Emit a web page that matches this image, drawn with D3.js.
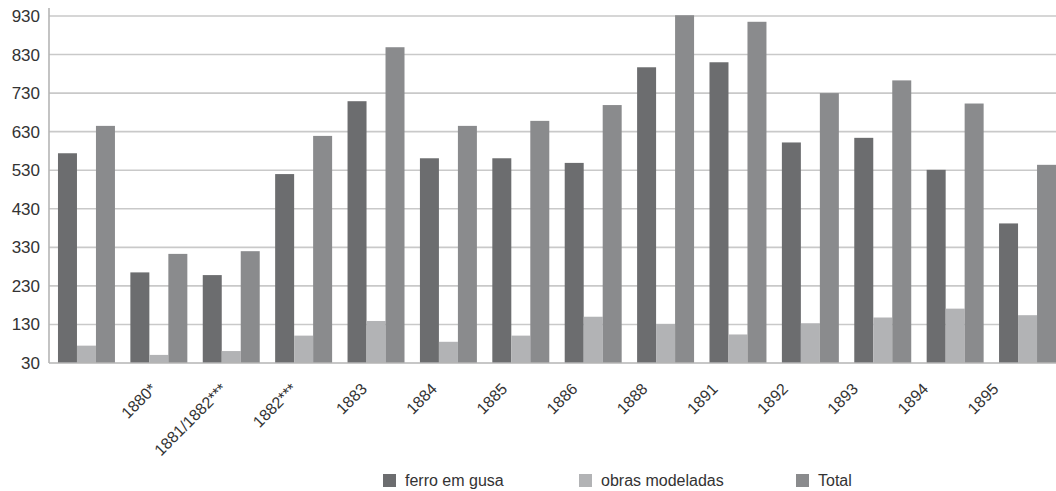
<!DOCTYPE html>
<html>
<head>
    <meta charset="utf-8">
    <script src="https://d3js.org/d3.v7.min.js"></script>
    <style>
        body { margin: 0; background: #fff; }
        text { font-family: "Liberation Sans", Arial, sans-serif; }
    </style>
</head>
<body></body>
<script>

    // data (first group carries no label in the original)
    var categories = ["", "1880*", "1881/1882***", "1882***", "1883", "1884", "1885",
        "1886", "1888", "1891", "1892", "1893", "1894", "1895"];
    var seriesNames = ["ferro em gusa", "obras modeladas", "Total"];
    var ferro = [574, 265, 258, 520, 709, 561, 561, 549, 797, 810, 602, 614, 531, 392];
    var obras = [75, 51, 61, 101, 139, 85, 101, 150, 131, 104, 133, 148, 171, 154];
    var total = [645, 313, 320, 619, 849, 645, 658, 699, 932, 915, 730, 763, 703, 544];
    var yTicks = [30, 130, 230, 330, 430, 530, 630, 730, 830, 930];
    var colors = ["#6c6d6f", "#b2b3b5", "#8a8b8d"];

    var width = 1056, height = 491;

    var svg = d3.select("body")
        .append("svg")
        .attr("width", width)
        .attr("height", height);

    var rows = categories.map(function (c, i) {
        return { cat: c, values: [ferro[i], obras[i], total[i]] };
    });

    // scales
    var y = d3.scaleLinear()
        .domain([30, 930])
        .range([363, 16]);

    var x0 = d3.scaleBand()
        .domain(categories)
        .range([49, 1065])
        .paddingInner(0.213)
        .paddingOuter(0.124);

    var x1 = d3.scaleBand()
        .domain(seriesNames)
        .range([0, x0.bandwidth()]);

    // the tick labels sit on their own spacing in the original
    var xLabels = d3.scalePoint()
        .domain(categories.slice(1))
        .range([157, 999]);

    //grid lines
    svg.append("g")
        .selectAll("line")
        .data(yTicks.slice(1))
        .enter()
        .append("line")
        .attr("x1", 49)
        .attr("x2", width)
        .attr("y1", function (d) { return y(d); })
        .attr("y2", function (d) { return y(d); })
        .style("stroke", "#c9c9c9")
        .style("stroke-width", 1.6);

    //y-axis
    var yAxis = svg.append("g")
        .attr("transform", "translate(49,0)")
        .call(d3.axisLeft(y).tickValues(yTicks).tickSize(0).tickPadding(9));
    yAxis.select(".domain").remove();
    yAxis.selectAll("text")
        .style("font-size", "17px")
        .style("fill", "#333");

    //bars
    svg.append("g")
        .selectAll("g")
        .data(rows)
        .enter()
        .append("g")
        .attr("transform", function (d) { return "translate(" + x0(d.cat) + ",0)"; })
        .selectAll("rect")
        .data(function (d) { return d.values; })
        .enter()
        .append("rect")
        .attr("x", function (d, i) { return x1(seriesNames[i]); })
        .attr("width", x1.bandwidth())
        .attr("y", function (d) { return y(d); })
        .attr("height", function (d) { return y(30) - y(d); })
        .style("fill", function (d, i) { return colors[i]; });

    //axis lines
    svg.append("line")
        .attr("x1", 49).attr("x2", width)
        .attr("y1", y(30)).attr("y2", y(30))
        .style("stroke", "#b5b5b5")
        .style("stroke-width", 1.6);

    svg.append("line")
        .attr("x1", 49).attr("x2", 49)
        .attr("y1", 8).attr("y2", y(30))
        .style("stroke", "#b5b5b5")
        .style("stroke-width", 1.6);

    //x labels
    var xAxis = svg.append("g")
        .attr("transform", "translate(0,390)")
        .call(d3.axisBottom(xLabels).tickSize(0).tickPadding(0));
    xAxis.select(".domain").remove();
    xAxis.selectAll("text")
        .attr("y", 0)
        .attr("dy", 0)
        .attr("transform", "rotate(-45)")
        .style("text-anchor", "end")
        .style("font-size", "16px")
        .style("fill", "#333");

    //legend
    var legendX = [383, 579, 796];
    var legend = svg.append("g")
        .selectAll("g")
        .data(seriesNames)
        .enter()
        .append("g")
        .attr("transform", function (d, i) { return "translate(" + legendX[i] + ",474)"; });

    legend.append("rect")
        .attr("width", 13)
        .attr("height", 13)
        .style("fill", function (d, i) { return colors[i]; });

    legend.append("text")
        .attr("x", 22)
        .attr("y", 12)
        .style("font-size", "16px")
        .style("fill", "#333")
        .text(function (d) { return d; });

</script>
</html>
